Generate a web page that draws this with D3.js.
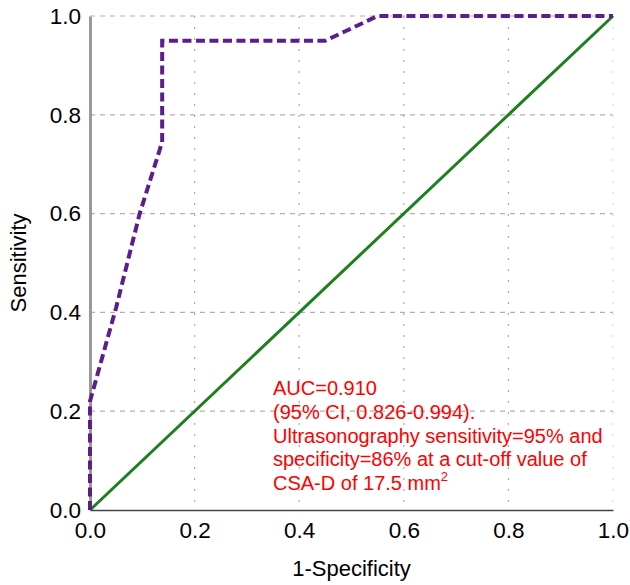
<!DOCTYPE html>
<html>
<head>
<meta charset="utf-8">
<script src="https://cdn.jsdelivr.net/npm/d3@7"></script>
<style>
  body { margin: 0; background: #fff; }
  text { font-family: "Liberation Sans", Arial, Helvetica, sans-serif; }
</style>
</head>
<body>
<svg id="chart" width="630" height="585"></svg>
<script>
// Data
var rocFpr  = [0, 0,    0.05, 0.095, 0.138, 0.138, 0.45, 0.55, 1.0];
var rocSens = [0, 0.22, 0.41, 0.60,  0.745, 0.95,  0.95, 1.0,  1.0];
var refLine = [0, 1];
var tickValues = [0, 0.2, 0.4, 0.6, 0.8, 1.0];
var noteLines = [
  "AUC=0.910",
  "(95% CI, 0.826-0.994).",
  "Ultrasonography sensitivity=95% and",
  "specificity=86% at a cut-off value of",
  "CSA-D of 17.5 mm"
];

// Setup margins
const margin = { top: 16, bottom: 75, left: 90, right: 17 };
const svg = d3.select("#chart");
var width = 630 - margin.left - margin.right;
var height = 585 - margin.top - margin.bottom;

const plot = svg.append("g")
  .attr("transform", `translate(${margin.left}, ${margin.top})`);

const xscale = d3.scaleLinear().domain([0, 1]).range([0, width]);
const yscale = d3.scaleLinear().domain([0, 1]).range([height, 0]);

// Grid
plot.selectAll(".hgrid")
  .data(tickValues.filter(d => d > 0))
  .enter().append("line")
  .attr("x1", 0).attr("x2", width)
  .attr("y1", d => yscale(d)).attr("y2", d => yscale(d))
  .attr("stroke", "#b0b0b0")
  .attr("stroke-width", 1.2)
  .attr("stroke-dasharray", "5,5");

plot.selectAll(".vgrid")
  .data(tickValues.filter(d => d > 0))
  .enter().append("line")
  .attr("x1", d => xscale(d)).attr("x2", d => xscale(d))
  .attr("y1", 0).attr("y2", height)
  .attr("stroke", d => d == 1 ? "#ddd" : "#aaa")
  .attr("stroke-width", 1.2)
  .attr("stroke-dasharray", "2,9");

// Axes
const xaxis = d3.axisBottom(xscale).tickValues(tickValues).tickFormat(d3.format(".1f")).tickSize(0).tickPadding(12);
const yaxis = d3.axisLeft(yscale).tickValues(tickValues).tickFormat(d3.format(".1f")).tickSize(0).tickPadding(9);

const gx = plot.append("g")
  .attr("transform", `translate(0,${height})`)
  .call(xaxis);
gx.select(".domain").attr("stroke", "#444").attr("stroke-width", 1.5);
gx.selectAll("text").style("font-size", "22.5px").attr("fill", "#000");

const gy = plot.append("g").call(yaxis);
gy.select(".domain").attr("stroke", "#999").attr("stroke-width", 3);
gy.selectAll("text").style("font-size", "22.5px").attr("fill", "#000");

// Reference diagonal
plot.append("line")
  .attr("x1", xscale(refLine[0])).attr("y1", yscale(refLine[0]))
  .attr("x2", xscale(refLine[1])).attr("y2", yscale(refLine[1]))
  .attr("stroke", "#1f7f1f")
  .attr("stroke-width", 3);

// ROC curve
var rocData = rocFpr.map((d, i) => ({ x: d, y: rocSens[i] }));
const rocLine = d3.line().x(d => xscale(d.x)).y(d => yscale(d.y));

plot.append("path")
  .datum(rocData)
  .attr("d", rocLine)
  .attr("fill", "none")
  .attr("stroke", "#5c1e8a")
  .attr("stroke-width", 4)
  .attr("stroke-dasharray", "9,4.5");

// Axis titles
svg.append("text")
  .attr("x", margin.left + width / 2)
  .attr("y", 576)
  .attr("text-anchor", "middle")
  .style("font-size", "22px")
  .text("1-Specificity");

svg.append("text")
  .attr("transform", `translate(26, ${margin.top + height / 2}) rotate(-90)`)
  .attr("text-anchor", "middle")
  .style("font-size", "22px")
  .text("Sensitivity");

// Annotation
const note = svg.append("text")
  .attr("x", 273)
  .attr("y", 395)
  .attr("fill", "#ff0000")
  .style("font-size", "20px");

note.selectAll("tspan")
  .data(noteLines)
  .enter().append("tspan")
  .attr("x", 273)
  .attr("dy", (d, i) => i == 0 ? 0 : 23.8)
  .text(d => d);

note.append("tspan")
  .attr("dy", -9)
  .style("font-size", "13px")
  .text("2");
</script>
</body>
</html>
